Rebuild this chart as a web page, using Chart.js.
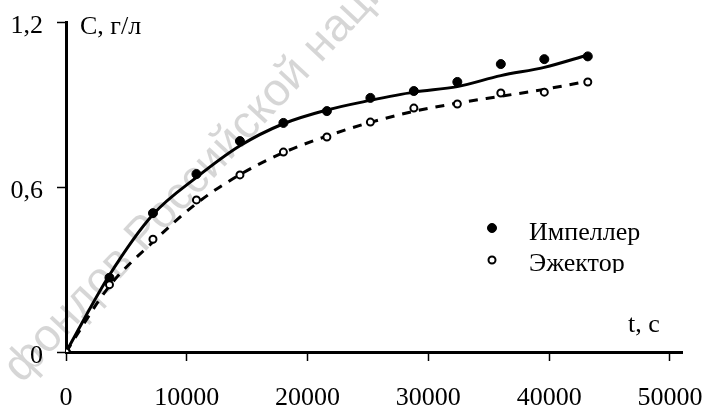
<!DOCTYPE html>
<html>
<head>
<meta charset="utf-8">
<script src="https://cdn.jsdelivr.net/npm/chart.js@4.4.1/dist/chart.umd.min.js"></script>
<style>
  html, body { margin: 0; padding: 0; background: #ffffff; }
  #wrap { width: 707px; height: 409px; position: relative; }
</style>
</head>
<body>
<div id="wrap"><canvas id="c" width="707" height="409"></canvas></div>
<script>
// ---- data ----
const times        = [0, 3600, 7200, 10800, 14400, 18000, 21600, 25200, 28800, 32400, 36000, 39600, 43200];
const impeller     = [0, 0.27, 0.505, 0.647, 0.767, 0.833, 0.876, 0.924, 0.949, 0.982, 1.047, 1.065, 1.075];
const ejector      = [0, 0.245, 0.41, 0.553, 0.644, 0.727, 0.782, 0.836, 0.887, 0.902, 0.942, 0.945, 0.982];
const impellerFit  = [0, 0.28, 0.50, 0.635, 0.75, 0.83, 0.88, 0.915, 0.945, 0.965, 1.005, 1.035, 1.08];
const ejectorFit   = [0, 0.24, 0.40, 0.54, 0.645, 0.725, 0.785, 0.835, 0.875, 0.905, 0.93, 0.955, 0.985];
const xTicks       = [0, 10000, 20000, 30000, 40000, 50000];
const yTicks       = [0, 0.6, 1.2];
const seriesNames  = ['Импеллер', 'Эжектор'];
const yTitle = 'C, г/л';
const xTitle = 't, с';
const watermark = 'фондов Российской национальной библиотеки';

const pts = (xs, ys) => xs.map((x, i) => ({ x: x, y: ys[i] }));
const SERIF = '"Liberation Serif", "Times New Roman", serif';

const extras = {
  id: 'extras',
  beforeDraw(chart) {
    const ctx = chart.ctx;
    ctx.save();
    ctx.fillStyle = '#ffffff';
    ctx.fillRect(0, 0, chart.width, chart.height);
    // watermark
    ctx.translate(22, 384);
    ctx.rotate(-47 * Math.PI / 180);
    ctx.font = '46px "Liberation Sans", Arial, sans-serif';
    ctx.fillStyle = 'rgba(0,0,0,0.16)';
    ctx.textBaseline = 'alphabetic';
    ctx.textAlign = 'left';
    ctx.fillText(watermark, 0, 0);
    ctx.restore();
  },
  afterDraw(chart) {
    const ctx = chart.ctx;
    ctx.save();
    ctx.fillStyle = '#000';
    ctx.font = '26px ' + SERIF;
    ctx.textBaseline = 'alphabetic';
    ctx.textAlign = 'left';
    ctx.fillText(yTitle, 80, 34);
    ctx.fillText(xTitle, 628, 332);
    // legend
    const ds = chart.data.datasets;
    const rows = [{ y: 228, d: ds[0] }, { y: 260, d: ds[1] }];
    rows.forEach((r, i) => {
      ctx.beginPath();
      ctx.arc(492, r.y, i === 0 ? 4.5 : 3.5, 0, Math.PI * 2);
      ctx.fillStyle = r.d.pointBackgroundColor;
      ctx.fill();
      ctx.lineWidth = r.d.pointBorderWidth;
      ctx.strokeStyle = r.d.pointBorderColor;
      ctx.stroke();
    });
    ctx.save();
    ctx.beginPath();
    ctx.rect(500, 200, 200, 73);
    ctx.clip();
    ctx.fillStyle = '#000';
    ctx.fillText(seriesNames[0], 529, 240);
    ctx.fillText(seriesNames[1], 529, 271);
    ctx.restore();
    ctx.restore();
  }
};

new Chart(document.getElementById('c'), {
  type: 'scatter',
  data: {
    datasets: [
      {
        label: seriesNames[0],
        data: pts(times, impeller),
        showLine: false,
        pointRadius: 4.5,
        pointBackgroundColor: '#000',
        pointBorderColor: '#000',
        pointBorderWidth: 1,
        order: 1
      },
      {
        label: seriesNames[1],
        data: pts(times, ejector),
        showLine: false,
        pointRadius: 3.5,
        pointBackgroundColor: '#fff',
        pointBorderColor: '#000',
        pointBorderWidth: 2,
        order: 0
      },
      {
        label: seriesNames[0] + ' (trend)',
        data: pts(times, impellerFit),
        showLine: true,
        borderColor: '#000',
        borderWidth: 3,
        pointRadius: 0,
        cubicInterpolationMode: 'monotone',
        order: 2
      },
      {
        label: seriesNames[1] + ' (trend)',
        data: pts(times, ejectorFit),
        showLine: true,
        borderColor: '#000',
        borderWidth: 3,
        borderDash: [9, 8],
        pointRadius: 0,
        cubicInterpolationMode: 'monotone',
        order: 3
      }
    ]
  },
  options: {
    responsive: false,
    animation: false,
    layout: { padding: { top: 22, right: 25, left: 0, bottom: 0 } },
    plugins: { legend: { display: false }, tooltip: { enabled: false } },
    scales: {
      x: {
        type: 'linear',
        min: 0,
        max: 51000,
        afterBuildTicks: (s) => { s.ticks = xTicks.map(v => ({ value: v })); },
        afterFit: (s) => { s.height = 57; s.paddingLeft = 0; s.paddingRight = 0; },
        border: { display: true, color: '#000', width: 3 },
        grid: { drawOnChartArea: false, drawTicks: true, tickLength: 9, tickColor: '#000', tickWidth: 1.5 },
        ticks: {
          color: '#000',
          font: { family: SERIF, size: 26 },
          padding: 22,
          maxRotation: 0,
          callback: (v) => String(v)
        }
      },
      y: {
        type: 'linear',
        min: 0,
        max: 1.2,
        afterBuildTicks: (s) => { s.ticks = yTicks.map(v => ({ value: v })); },
        afterFit: (s) => { s.width = 66; s.paddingTop = 0; s.paddingBottom = 0; },
        border: { display: true, color: '#000', width: 3 },
        grid: { drawOnChartArea: false, drawTicks: true, tickLength: 9, tickColor: '#000', tickWidth: 1.5 },
        ticks: {
          color: '#000',
          font: { family: SERIF, size: 26 },
          padding: 14,
          labelOffset: 4,
          callback: (v) => v === 0 ? '0' : v.toFixed(1).replace('.', ',')
        }
      }
    }
  },
  plugins: [extras]
});
</script>
</body>
</html>
